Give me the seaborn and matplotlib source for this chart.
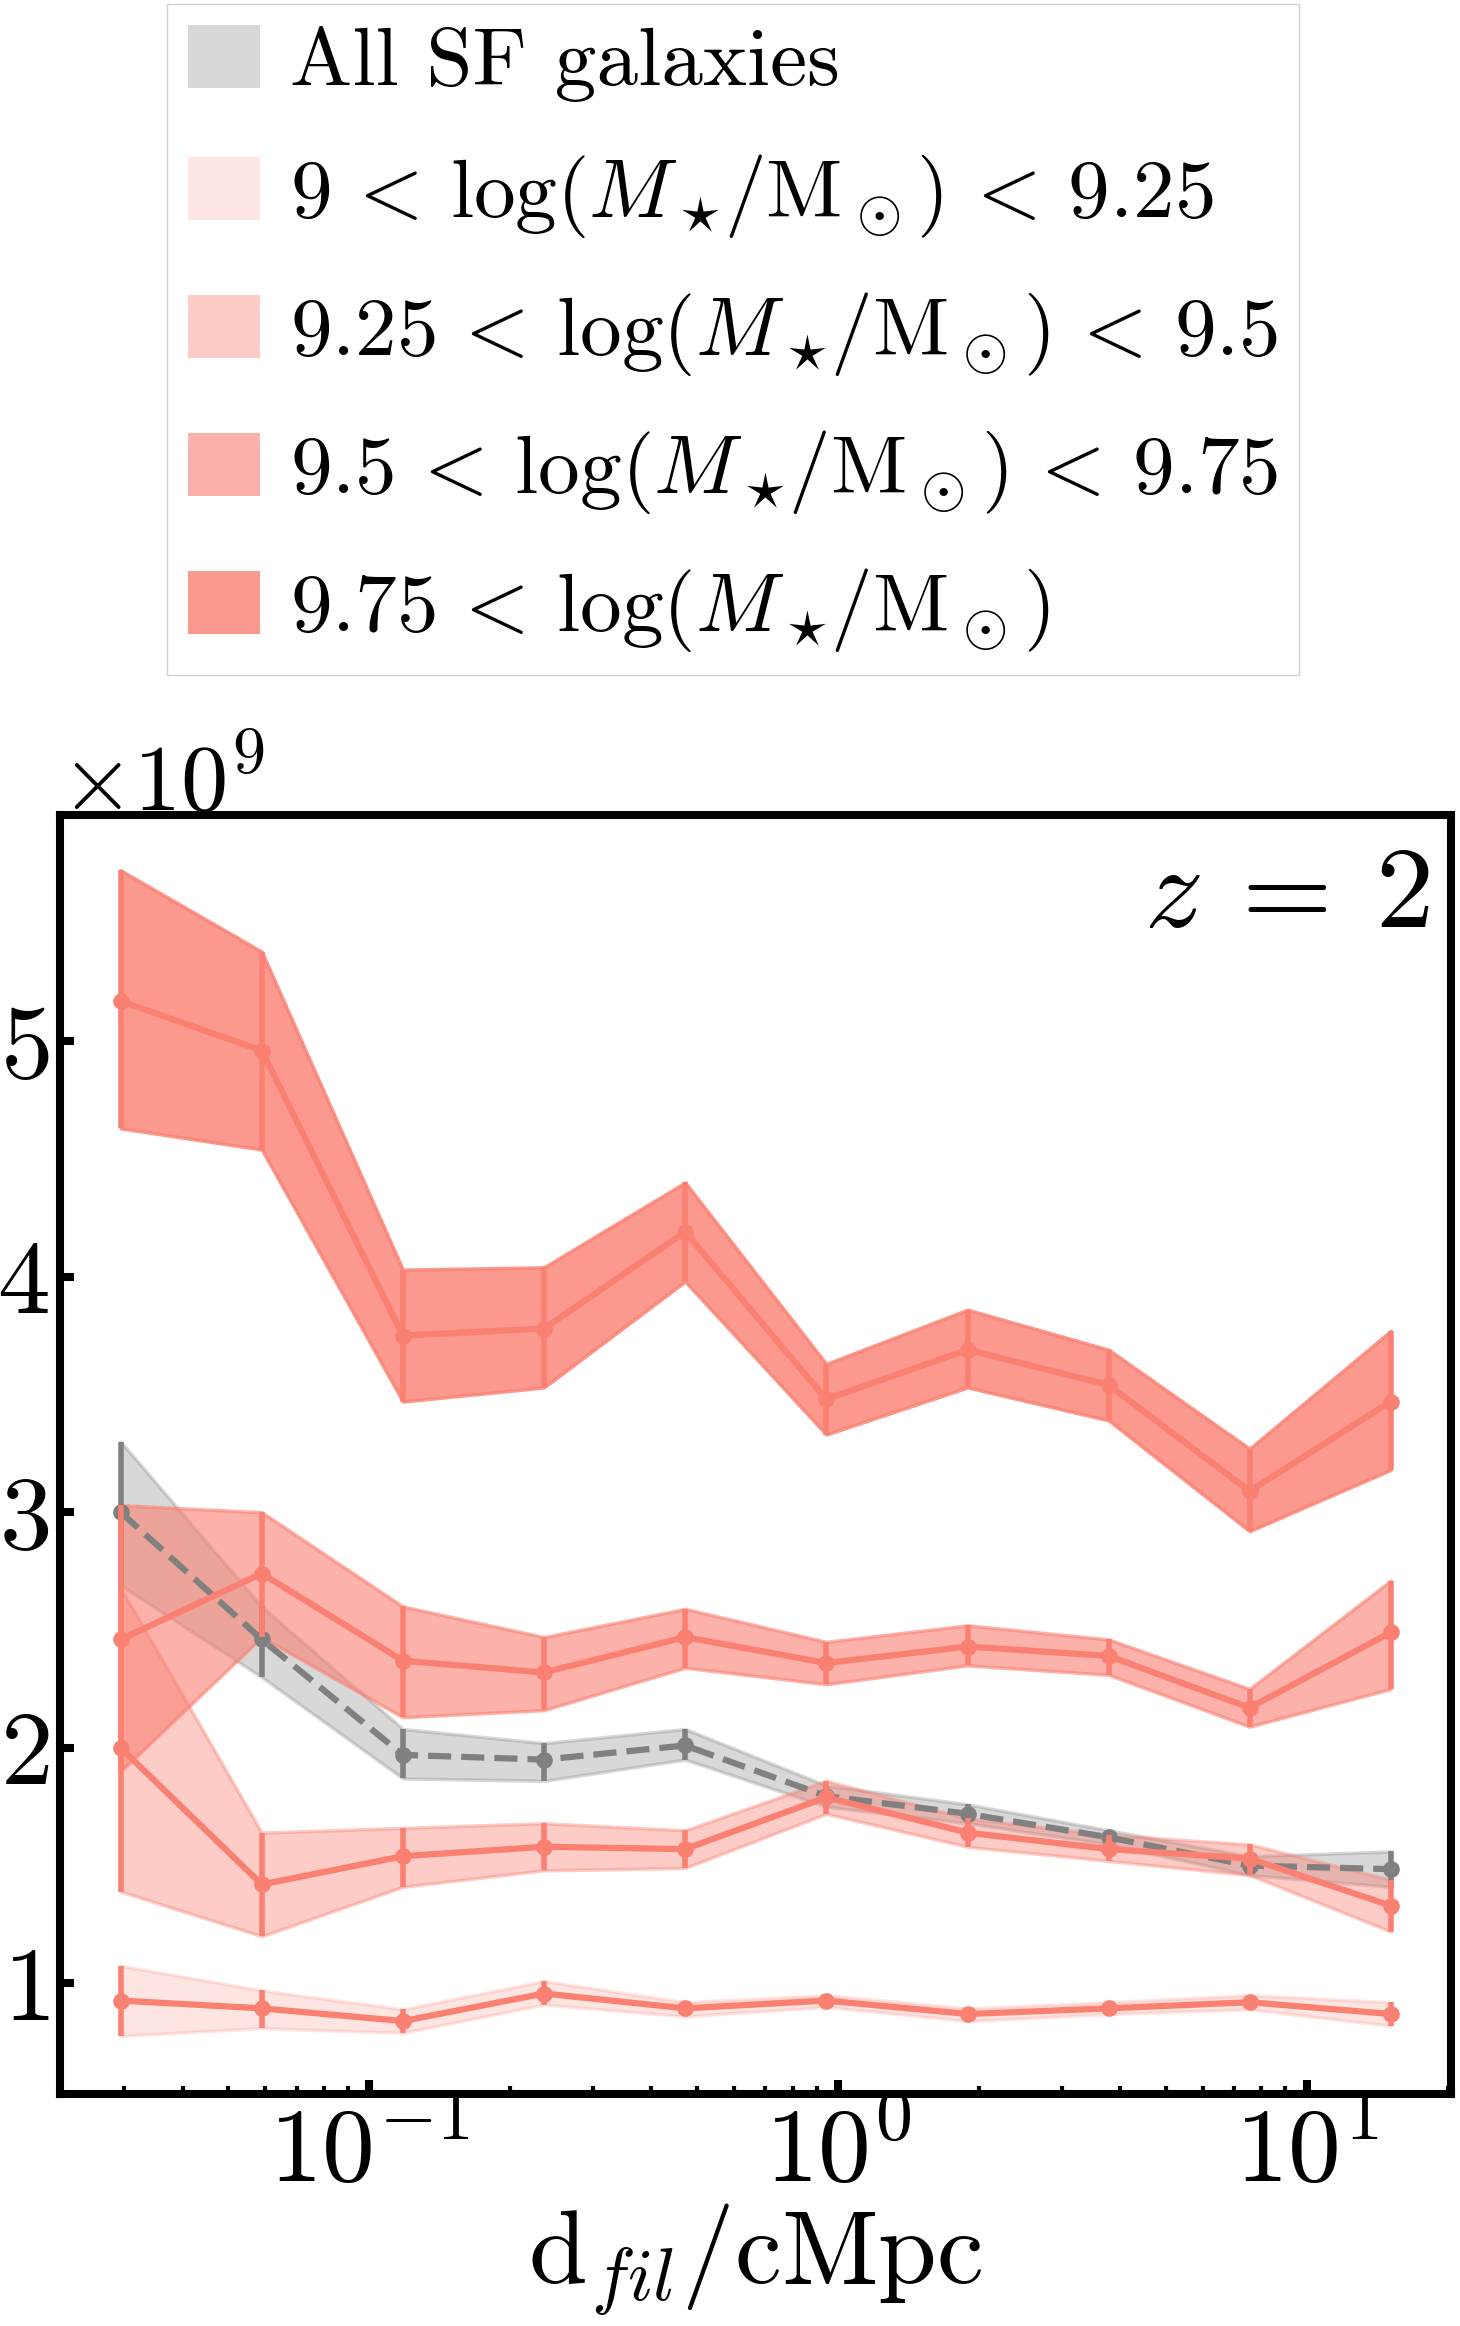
import numpy as np
import pandas as pd
import matplotlib
matplotlib.use("Agg")
import matplotlib.pyplot as plt
from matplotlib.patches import Patch
import seaborn as sns

# distancia al filamento (cMpc), centros de los bins
d_fil = [0.0295, 0.059, 0.118, 0.236, 0.472, 0.944, 1.89, 3.78, 7.55, 15.1]

# todas las galaxias SF (en unidades de 1e9)
all_mid = [3.00, 2.46, 1.97, 1.95, 2.01, 1.795, 1.72, 1.62, 1.50, 1.485]
all_lo = [2.69, 2.30, 1.87, 1.86, 1.95, 1.75, 1.68, 1.59, 1.46, 1.41]
all_hi = [3.30, 2.60, 2.08, 2.02, 2.08, 1.84, 1.76, 1.65, 1.54, 1.56]

# 9 < logM < 9.25
m1_mid = [0.927, 0.894, 0.84, 0.957, 0.894, 0.927, 0.87, 0.894, 0.92, 0.87]
m1_lo = [0.777, 0.81, 0.79, 0.91, 0.86, 0.90, 0.84, 0.87, 0.89, 0.82]
m1_hi = [1.075, 0.97, 0.89, 1.01, 0.92, 0.95, 0.894, 0.92, 0.95, 0.92]

# 9.25 < logM < 9.5
m2_mid = [2.00, 1.42, 1.54, 1.58, 1.57, 1.79, 1.64, 1.57, 1.53, 1.33]
m2_lo = [1.39, 1.20, 1.41, 1.48, 1.49, 1.72, 1.58, 1.52, 1.46, 1.22]
m2_hi = [2.68, 1.64, 1.66, 1.68, 1.65, 1.86, 1.70, 1.63, 1.59, 1.44]

# 9.5 < logM < 9.75
m3_mid = [2.46, 2.74, 2.37, 2.32, 2.47, 2.36, 2.43, 2.39, 2.17, 2.49]
m3_lo = [1.90, 2.47, 2.13, 2.16, 2.34, 2.27, 2.35, 2.31, 2.09, 2.25]
m3_hi = [3.03, 3.00, 2.60, 2.47, 2.59, 2.45, 2.52, 2.46, 2.25, 2.71]

# 9.75 < logM
m4_mid = [5.17, 4.96, 3.75, 3.78, 4.19, 3.48, 3.69, 3.54, 3.09, 3.47]
m4_lo = [4.63, 4.54, 3.47, 3.53, 3.98, 3.33, 3.53, 3.39, 2.92, 3.18]
m4_hi = [5.725, 5.38, 4.03, 4.04, 4.40, 3.63, 3.86, 3.69, 3.27, 3.77]

labels = [r"All SF galaxies",
          r"$9\,<\,\log(M_\star\!/\mathrm{M}_\odot)\,<\,9.25$",
          r"$9.25\,<\,\log(M_\star\!/\mathrm{M}_\odot)\,<\,9.5$",
          r"$9.5\,<\,\log(M_\star\!/\mathrm{M}_\odot)\,<\,9.75$",
          r"$9.75\,<\,\log(M_\star\!/\mathrm{M}_\odot)$"]
alphas = [0.3, 0.2, 0.4, 0.6, 0.8]

sns.set_style("ticks")
plt.rcParams["font.family"] = "serif"
plt.rcParams["font.serif"] = ["cmr10"]
plt.rcParams["mathtext.fontset"] = "cm"
plt.rcParams["axes.formatter.use_mathtext"] = True
for k in ["text.color", "axes.labelcolor", "xtick.color", "ytick.color"]:
    plt.rcParams[k] = "black"

fig = plt.figure(figsize=(14.6, 23.26), dpi=100)
ax = fig.add_axes([0.0411, 0.0997, 0.9527, 0.5499])

series = [(all_mid, all_lo, all_hi, "gray"),
          (m1_mid, m1_lo, m1_hi, "salmon"),
          (m2_mid, m2_lo, m2_hi, "salmon"),
          (m3_mid, m3_lo, m3_hi, "salmon"),
          (m4_mid, m4_lo, m4_hi, "salmon")]

x = np.array(d_fil)
for i, (mid, lo, hi, col) in enumerate(series):
    mid = np.array(mid) * 1e9
    lo = np.array(lo) * 1e9
    hi = np.array(hi) * 1e9
    ax.fill_between(x, lo, hi, facecolor=col, edgecolor=col, alpha=alphas[i], linewidth=2.5)
    ax.vlines(x, lo, hi, color=col, linewidth=4)
    df = pd.DataFrame({"x": x, "y": mid})
    sns.lineplot(data=df, x="x", y="y", ax=ax, color=col, linewidth=4.5,
                 linestyle="--" if i == 0 else "-", marker="o", markersize=12,
                 markeredgewidth=0)

ax.set_xscale("log")
ax.set_xlim(0.0219, 20.3)
ax.set_ylim(0.53e9, 5.96e9)
ax.ticklabel_format(style="sci", axis="y", scilimits=(0, 0))
ax.set_yticks([1e9, 2e9, 3e9, 4e9, 5e9])
ax.set_xlabel(r"$\mathrm{d}_{fil}/\mathrm{cMpc}$", fontsize=76, labelpad=0)
ax.set_ylabel("")

for s in ax.spines.values():
    s.set_linewidth(5.8)
    s.set_color("black")
ax.tick_params(axis="both", which="major", direction="in", length=10, width=5.8,
               labelsize=76, pad=8)
ax.tick_params(axis="x", which="minor", direction="in", length=6, width=3)
ax.yaxis.get_offset_text().set_fontsize(68)

ax.text(0.985, 0.975, r"$z\:=\:2$", transform=ax.transAxes, ha="right", va="top", fontsize=84)

handles = [Patch(facecolor=c, alpha=a, edgecolor="none")
           for (_, _, _, c), a in zip(series, alphas)]
fig.legend(handles, labels, loc="upper center", bbox_to_anchor=(0.502, 1.0),
           fontsize=60, frameon=True, fancybox=False, framealpha=1,
           edgecolor="#d0d0d0", handlelength=0.87, handleheight=0.78,
           handletextpad=0.35, borderpad=0.25, labelspacing=0.6,
           borderaxespad=0.05)

fig.savefig("out.png", dpi=100)
